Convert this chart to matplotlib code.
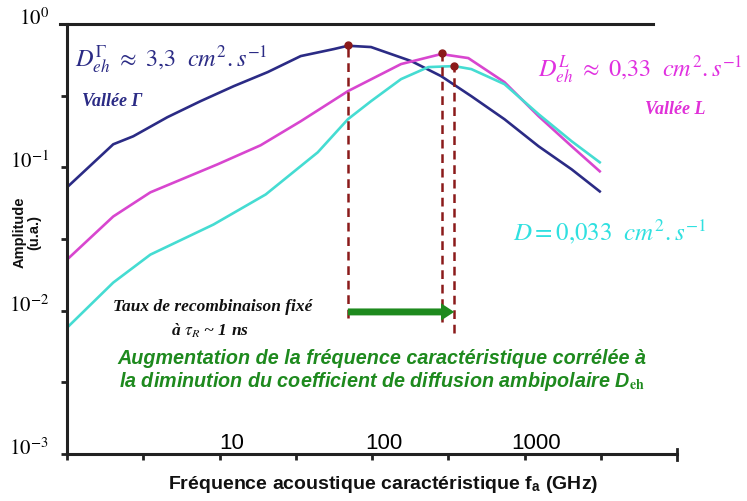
import matplotlib
matplotlib.use("Agg")
import matplotlib.pyplot as plt
import matplotlib.transforms as mtransforms

plt.rcParams['mathtext.fontset'] = 'stix'

# fréquences (GHz) et amplitudes
f_gamma = [1, 2.01, 2.72, 4.55, 7.50, 12.4, 20.7, 34.1, 56.2, 69.5, 98.5, 181, 284,
           448, 739, 1237, 2038, 3115]
a_gamma = [0.0725, 0.1448, 0.1647, 0.2237, 0.2893, 0.3684, 0.4617, 0.5974, 0.6685,
           0.705, 0.6906, 0.551, 0.4328, 0.3136, 0.2166, 0.1402, 0.0968, 0.0679]

f_L = [1, 2.01, 3.52, 9.70, 18.6, 34.1, 69.5, 155, 284, 428, 739, 1237, 2038, 3115]
a_L = [0.0227, 0.0454, 0.0669, 0.1049, 0.1425, 0.2097, 0.340, 0.5253, 0.6169,
       0.5784, 0.3929, 0.2274, 0.1402, 0.0938]

f_D = [1, 2.01, 3.52, 9.13, 20.1, 44.1, 69.5, 98.5, 155, 234, 346, 448, 739, 1237,
       2038, 3115]
a_D = [0.0076, 0.0157, 0.0246, 0.0399, 0.0647, 0.1273, 0.2166, 0.2893, 0.4124,
       0.5004, 0.5085, 0.4845, 0.3805, 0.2348, 0.152, 0.1084]

# fréquences caractéristiques (pics) et bas des pointillés
f_pics = [69.5, 289, 346]
a_pics = [0.713, 0.63, 0.508]
a_bas = [0.0089, 0.0084, 0.0070]
a_fleche = 0.0098

x_major = [10, 100, 1000]
x_labels = ['10', '100', '1000']
x_minor = [1, 10**0.5, 10**1.5, 10**2.5, 10**3.5]
y_major = [1e-3, 1e-2, 1e-1, 1e0]
y_labels = [r'$10^{-3}$', r'$10^{-2}$', r'$10^{-1}$', r'$10^{0}$']
y_minor = [10**-2.5, 10**-1.5, 10**-0.5]

bleu = '#2b2b85'
magenta = '#d846cf'
cyan = '#45dcd2'
rouge = '#8b1a1a'
vert = '#1e8a1e'
noir = '#222222'

fig = plt.figure(figsize=(7.47, 5.02), dpi=100)
ax = fig.add_axes([67/747, 1-455/502, 610/747, 430/502])

ax.plot(f_gamma, a_gamma, color=bleu, lw=1.9)
ax.plot(f_L, a_L, color=magenta, lw=1.9)
ax.plot(f_D, a_D, color=cyan, lw=1.9)

for f, top, bas in zip(f_pics, a_pics, a_bas):
    ax.plot([f, f], [bas, top], color=rouge, lw=1.8, linestyle=(0, (3.5, 2.3)))
    ax.plot(f, top, 'o', color=rouge, ms=5)

ax.annotate('', xy=(f_pics[2], a_fleche), xytext=(f_pics[0], a_fleche),
            arrowprops=dict(width=5, headwidth=12.5, headlength=9.5, color=vert,
                            lw=0, shrink=0))

ax.set_xscale('log')
ax.set_yscale('log')
ax.set_xlim(1, 1e4)
ax.set_ylim(1e-3, 1e0)

ax.set_xticks(x_major, x_labels)
ax.set_xticks(x_minor, minor=True)
ax.set_yticks(y_major, y_labels)
ax.set_yticks(y_minor, minor=True)
ax.xaxis.set_minor_formatter(matplotlib.ticker.NullFormatter())
ax.yaxis.set_minor_formatter(matplotlib.ticker.NullFormatter())

ax.tick_params(axis='both', which='both', length=4, width=2, color=noir)
ax.tick_params(axis='x', which='major', pad=-20, labelsize=16)
ax.tick_params(axis='y', which='major', pad=9, labelsize=15)
for lbl in ax.get_xticklabels():
    lbl.set_fontfamily('Liberation Sans')
    lbl.set_transform(lbl.get_transform() +
                      mtransforms.ScaledTranslation(12/100, 0, fig.dpi_scale_trans))
for lbl in ax.get_yticklabels():
    lbl.set_transform(lbl.get_transform() +
                      mtransforms.ScaledTranslation(0, 9/100, fig.dpi_scale_trans))

for s in ['top', 'right']:
    ax.spines[s].set_visible(False)
for s in ['left', 'bottom']:
    ax.spines[s].set_linewidth(2.2)
    ax.spines[s].set_color(noir)
# ligne du haut, plus courte que l'axe
ax.plot([-0.012, 0.961], [1, 1], transform=ax.transAxes, color=noir, lw=2.2,
        clip_on=False)
ax.plot([1, 1], [-0.015, 0.012], transform=ax.transAxes, color=noir, lw=2,
        clip_on=False)

# textes
fig.text(75/747, 1-60/502, r'$D_{eh}^{\Gamma}\ \approx\ 3{,}3\ \ cm^2{.}s^{-1}$',
         color=bleu, fontsize=17.5, va='center', ha='left')
fig.text(82/747, 1-102/502, 'Vallée Γ', color=bleu, fontsize=13,
         family='Liberation Serif', style='italic', weight='bold', va='center')
fig.text(538/747, 1-70/502, r'$D_{eh}^{L}\ \approx\ 0{,}33\ \ cm^2{.}s^{-1}$',
         color='#e030e0', fontsize=17.5, va='center', ha='left')
fig.text(645/747, 1-110/502, 'Vallée L', color='#e030d8', fontsize=13,
         family='Liberation Serif', style='italic', weight='bold', va='center')
fig.text(513/747, 1-232/502, r'$D = 0{,}033\ \ cm^2{.}s^{-1}$',
         color='#30e0e0', fontsize=18, va='center', ha='left')
fig.text(213/747, 1-307/502, 'Taux de recombinaison fixé', color='#111111',
         fontsize=12.5, family='Liberation Serif', style='italic', weight='bold',
         ha='center', va='center')
fig.text(210/747, 1-331/502, r'à $\tau_R$ ~ 1 ns', color='#111111',
         fontsize=12.5, family='Liberation Serif', style='italic', weight='bold',
         ha='center', va='center')
fig.text(382/747, 1-371/502,
         'Augmentation de la fréquence caractéristique corrélée à\n'
         'la diminution du coefficient de diffusion ambipolaire D$_{\\mathbf{eh}}$',
         color=vert, fontsize=14.2, family='Liberation Sans', style='italic',
         weight='bold', ha='center', va='center', linespacing=1.1)

fig.text(383/747, 1-485/502, 'Fréquence acoustique caractéristique f$_\\mathregular{a}$ (GHz)',
         fontsize=14, family='Liberation Sans', weight='bold', ha='center',
         va='center', color='#111111')
fig.text(27/747, 1-232/502, 'Amplitude\n(u.a.)', fontsize=10.5,
         family='Liberation Sans', weight='bold', rotation=90, ha='center',
         va='center', color='#111111', linespacing=1.1)

fig.savefig('out.png', dpi=100)
